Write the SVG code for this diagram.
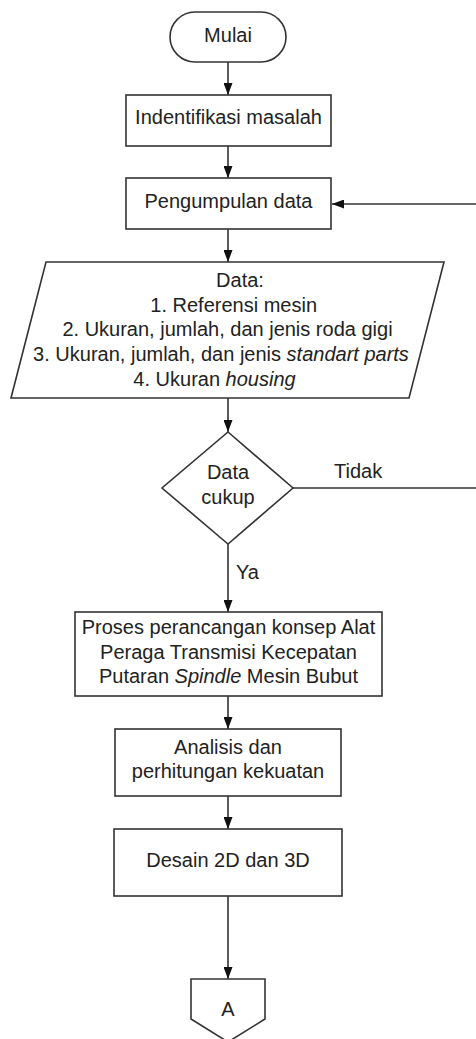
<svg xmlns="http://www.w3.org/2000/svg" width="476" height="1039" viewBox="0 0 476 1039">
<style>
.shape{fill:#fff;stroke:#333;stroke-width:1.6}
.conn{fill:none;stroke:#333;stroke-width:1.6}
text{font-family:"Liberation Sans",Arial,sans-serif;font-size:20px;fill:#222;text-anchor:middle}
.lbl{text-anchor:start}
.i{font-style:italic}
</style>
<defs>
<marker id="arr" markerUnits="userSpaceOnUse" markerWidth="12" markerHeight="9" refX="12" refY="4.5" orient="auto">
<path d="M0,0 L12,4.5 L0,9 z" fill="#111"/>
</marker>
</defs>
<rect width="476" height="1039" fill="#fff"/>
<g id="connectors">
<path class="conn" d="M228,62 V95" marker-end="url(#arr)"/>
<path class="conn" d="M228,146 V178" marker-end="url(#arr)"/>
<path class="conn" d="M228,229 V262" marker-end="url(#arr)"/>
<path class="conn" d="M228,398 V432" marker-end="url(#arr)"/>
<path class="conn" d="M228,544 V612" marker-end="url(#arr)"/>
<path class="conn" d="M228,696 V729" marker-end="url(#arr)"/>
<path class="conn" d="M228,796 V829" marker-end="url(#arr)"/>
<path class="conn" d="M228,896 V979" marker-end="url(#arr)"/>
<path class="conn" d="M293,488 H482 V204 H332" marker-end="url(#arr)"/>
<text class="lbl" x="334" y="478">Tidak</text>
<text class="lbl" x="236" y="579">Ya</text>
</g>
<g id="mulai">
<rect class="shape" x="170" y="12" width="116" height="50" rx="25" ry="25"/>
<text x="228" y="42">Mulai</text>
</g>
<g id="identifikasi">
<rect class="shape" x="126" y="95" width="205" height="51"/>
<text x="228.5" y="124">Indentifikasi masalah</text>
</g>
<g id="pengumpulan">
<rect class="shape" x="126" y="178" width="205" height="51"/>
<text x="228.5" y="207.5">Pengumpulan data</text>
</g>
<g id="data">
<polygon class="shape" points="46,262 444,262 409,398 11,398"/>
<text x="240" y="287">Data:</text>
<text x="233.7" y="311.5">1. Referensi mesin</text>
<text x="227.5" y="336">2. Ukuran, jumlah, dan jenis roda gigi</text>
<text x="221" y="361">3. Ukuran, jumlah, dan jenis <tspan class="i">standart parts</tspan></text>
<text x="214.5" y="386">4. Ukuran <tspan class="i">housing</tspan></text>
</g>
<g id="cukup">
<polygon class="shape" points="228,432 293,488 228,544 162,488"/>
<text x="228" y="479">Data</text>
<text x="228" y="504">cukup</text>
</g>
<g id="proses">
<rect class="shape" x="75" y="612" width="307" height="84"/>
<text x="228.5" y="634">Proses perancangan konsep Alat</text>
<text x="228.5" y="658.5">Peraga Transmisi Kecepatan</text>
<text x="228.5" y="683">Putaran <tspan class="i">Spindle</tspan> Mesin Bubut</text>
</g>
<g id="analisis">
<rect class="shape" x="115" y="729" width="226" height="67"/>
<text x="228" y="753.5">Analisis dan</text>
<text x="228" y="778">perhitungan kekuatan</text>
</g>
<g id="desain">
<rect class="shape" x="114" y="829" width="228" height="67"/>
<text x="228" y="866.5">Desain 2D dan 3D</text>
</g>
<g id="A">
<polygon class="shape" points="191,979 265,979 265,1019 228,1042 191,1019"/>
<text x="228" y="1016">A</text>
</g>
</svg>
